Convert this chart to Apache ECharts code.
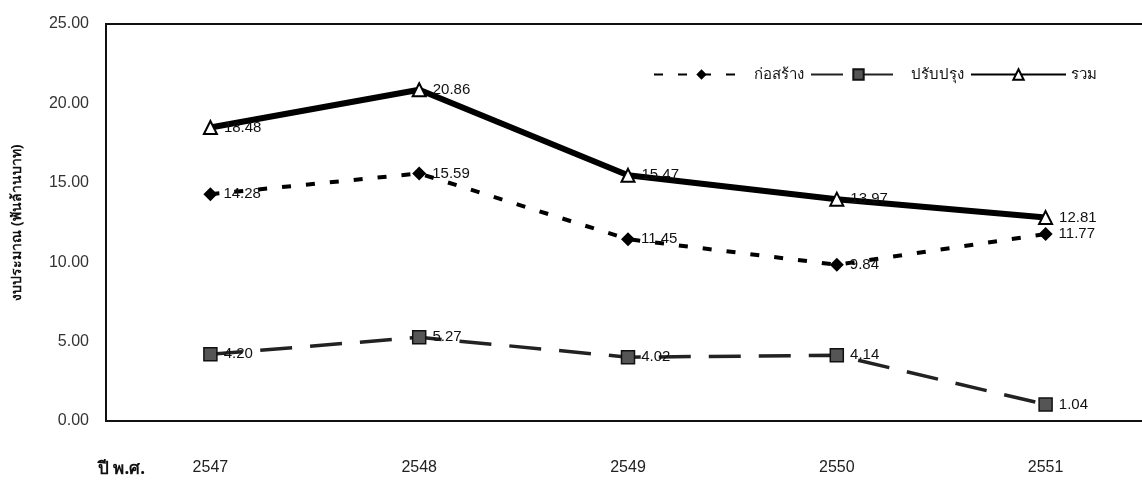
<!DOCTYPE html>
<html><head><meta charset="utf-8">
<script src="https://cdn.jsdelivr.net/npm/echarts@6/dist/echarts.min.js"></script>
<style>html,body{margin:0;padding:0;background:#fff}#c{width:1142px;height:481px}</style>
</head><body><div id="c"></div>
<script>
const years = ['2547','2548','2549','2550','2551'];
const construct = [14.28, 15.59, 11.45, 9.84, 11.77];
const improve = [4.20, 5.27, 4.02, 4.14, 1.04];
const total = [18.48, 20.86, 15.47, 13.97, 12.81];

const F = '"Liberation Sans","DejaVu Sans",sans-serif';
const TF = '"Noto Sans","DejaVu Sans",sans-serif';
const chart = echarts.init(document.getElementById('c'));
const lbl = {show:true, position:'right', distance:6, color:'#111', fontSize:15, fontFamily:F, formatter:p=>p.value.toFixed(2)};
chart.setOption({
  animation:false,
  title:{text:'ปี พ.ศ.', left:93, top:456, textStyle:{fontSize:17, fontWeight:'bold', fontFamily:TF, color:'#111'}},
  grid:{left:106, width:1044, top:24, bottom:60, outerBoundsMode:'none', containLabel:false,
        show:true, borderColor:'#111', borderWidth:2, backgroundColor:'transparent'},
  legend:{
    right:40, top:62, itemGap:6, itemWidth:95, itemHeight:13,
    textStyle:{fontSize:15, fontFamily:TF, color:'#111'},
    data:['ก่อสร้าง','ปรับปรุง','รวม']
  },
  xAxis:{type:'category', data:years, boundaryGap:true,
    axisLine:{show:true, lineStyle:{color:'#111', width:2}},
    axisTick:{show:false},
    axisLabel:{margin:39, fontSize:16, fontFamily:F, color:'#222'}},
  yAxis:{type:'value', min:0, max:25, interval:5,
    name:'งบประมาณ (พันล้านบาท)', nameLocation:'middle', nameGap:82, nameRotate:90,
    nameTextStyle:{fontSize:14, fontWeight:'bold', fontFamily:TF, color:'#111'},
    axisLine:{show:true, lineStyle:{color:'#111', width:2}},
    axisTick:{show:false}, splitLine:{show:false},
    axisLabel:{margin:17, fontSize:16, fontFamily:F, color:'#333', formatter:v=>v.toFixed(2)}},
  series:[
    {name:'ก่อสร้าง', type:'line', data:construct, symbol:'diamond', symbolSize:14,
     itemStyle:{color:'#000'}, lineStyle:{color:'#000', width:4, type:[9,15]}, label:lbl},
    {name:'ปรับปรุง', type:'line', data:improve, symbol:'rect', symbolSize:13,
     itemStyle:{color:'#555', borderColor:'#111', borderWidth:1.5}, lineStyle:{color:'#222', width:3.5, type:[32,18]}, label:lbl},
    {name:'รวม', type:'line', data:total, symbol:'triangle', symbolSize:13,
     itemStyle:{color:'#fff', borderColor:'#000', borderWidth:2}, lineStyle:{color:'#000', width:6}, label:lbl}
  ]
});
</script></body></html>
